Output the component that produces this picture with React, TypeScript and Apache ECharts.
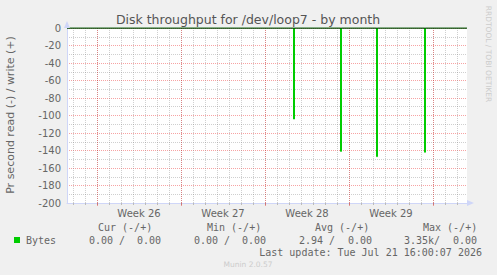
import React, { useEffect, useRef } from "react";
import * as echarts from "echarts";

// ---- texts ----
const TITLE = "Disk throughput for /dev/loop7 - by month";
const Y_NAME = "Pr second read (-) / write (+)";
const WATERMARK = "RRDTOOL / TOBI OETIKER";
const FOOTER = "Munin 2.0.57";
const LAST_UPDATE = "Last update: Tue Jul 21 16:00:07 2026";

// ---- x axis (hours relative to the start of Week 26) ----
const X_MIN = -60;
const X_MAX = 740;
const WEEK_LABELS = ["Week 26", "Week 27", "Week 28", "Week 29"];
const WEEK_MIDS = [84, 252, 420, 588];
const WEEK_STARTS = [0, 168, 336, 504, 672];
const DAY_TICKS = [
  -48, -24, 0, 24, 48, 72, 96, 120, 144, 168, 192, 216, 240, 264, 288, 312, 336,
  360, 384, 408, 432, 456, 480, 504, 528, 552, 576, 600, 624, 648, 672, 696, 720,
];

// ---- y axis ----
const Y_MIN = -200;
const Y_MAX = 0;
const Y_STEP = 20;

// ---- series: read spikes (hour of sample, value) ----
const SAMPLE_HOURS = 2;
const SPIKE_HOURS = [393, 487, 559, 655];
const SPIKE_VALUES = [-104, -141, -147, -142];

// ---- legend ----
const LEGEND_NAME = "Bytes";
const LEGEND_HEADERS = ["Cur (-/+)", "Min (-/+)", "Avg (-/+)", "Max (-/+)"];
const LEGEND_READ = ["0.00 /", "0.00 /", "2.94 /", "3.35k/"];
const LEGEND_WRITE = ["0.00", "0.00", "0.00", "0.00"];

const SANS = "'DejaVu Sans', sans-serif";
const MONO = "'DejaVu Sans Mono', monospace";
const FONT_COLOR = "#666666";
const AXIS_COLOR = "#CFD6F8";
const MINOR = "rgba(128,128,128,0.38)";
const MAJOR = "rgba(232,0,0,0.36)";
const GREEN = "#00CC00";

export default function App() {
  const ref = useRef<HTMLDivElement>(null);
  useEffect(() => {
    document.body.style.margin = "0";
    const chart = echarts.init(ref.current!, null, { renderer: "svg" });

    const dataPts: [number, number][] = [[X_MIN, 0]];
    SPIKE_HOURS.forEach((t, i) => {
      const v = SPIKE_VALUES[i];
      dataPts.push([t, 0], [t, v], [t + SAMPLE_HOURS, v], [t + SAMPLE_HOURS, 0]);
    });
    dataPts.push([X_MAX, 0]);

    const headerX = [98, 207, 315, 423];
    const readX = [89, 194, 299, 404];
    const writeRight = [161, 266, 372, 477];

    const graphic: any[] = [
      {
        type: "text",
        x: 248,
        y: 19,
        style: { text: TITLE, font: `12.5px ${SANS}`, fill: "#555", textAlign: "center", textVerticalAlign: "middle" },
      },
      {
        type: "text",
        x: 10,
        y: 115,
        rotation: Math.PI / 2,
        style: { text: Y_NAME, font: `11px ${SANS}`, fill: FONT_COLOR, textAlign: "center", textVerticalAlign: "middle" },
      },
      {
        type: "text",
        x: 488.5,
        y: 54,
        rotation: -Math.PI / 2,
        style: { text: WATERMARK, font: `7.5px ${SANS}`, fill: "#CCCCCC", textAlign: "center", textVerticalAlign: "middle" },
      },
      {
        type: "text",
        x: 248,
        y: 264,
        style: { text: FOOTER, font: `7.5px ${SANS}`, fill: "#CCCCCC", textAlign: "center", textVerticalAlign: "middle" },
      },
      // axis arrows
      {
        type: "polygon",
        z: 100,
        shape: { points: [[64, 28], [70, 28], [67, 21]] },
        style: { fill: AXIS_COLOR },
      },
      {
        type: "polygon",
        z: 100,
        shape: { points: [[467, 200], [467, 206], [474, 203]] },
        style: { fill: AXIS_COLOR },
      },
      {
        type: "rect",
        shape: { x: 14, y: 237, width: 6, height: 6 },
        style: { fill: GREEN },
      },
      {
        type: "text",
        x: 26,
        y: 240,
        style: { text: LEGEND_NAME, font: `10px ${MONO}`, fill: FONT_COLOR, textAlign: "left", textVerticalAlign: "middle" },
      },
      {
        type: "text",
        x: 482,
        y: 252,
        style: { text: LAST_UPDATE, font: `10px ${MONO}`, fill: FONT_COLOR, textAlign: "right", textVerticalAlign: "middle" },
      },
    ];
    LEGEND_HEADERS.forEach((h, i) => {
      graphic.push({
        type: "text",
        x: headerX[i],
        y: 227,
        style: { text: h, font: `10px ${MONO}`, fill: FONT_COLOR, textAlign: "left", textVerticalAlign: "middle" },
      });
      graphic.push({
        type: "text",
        x: readX[i],
        y: 240,
        style: { text: LEGEND_READ[i], font: `10px ${MONO}`, fill: FONT_COLOR, textAlign: "left", textVerticalAlign: "middle" },
      });
      graphic.push({
        type: "text",
        x: writeRight[i],
        y: 240,
        style: { text: LEGEND_WRITE[i], font: `10px ${MONO}`, fill: FONT_COLOR, textAlign: "right", textVerticalAlign: "middle" },
      });
    });

    chart.setOption({
      animation: false,
      backgroundColor: "#F0F0F0",
      grid: { left: 67, top: 28, width: 400, height: 175, show: true, backgroundColor: "#FFFFFF", borderWidth: 0 },
      xAxis: [
        {
          type: "value",
          min: X_MIN,
          max: X_MAX,
          position: "bottom",
          axisLine: { show: true, onZero: false, lineStyle: { color: AXIS_COLOR, width: 1 } },
          axisTick: { show: true, customValues: DAY_TICKS, length: 2, lineStyle: { color: "#BBBBBB" } },
          axisLabel: {
            show: true,
            customValues: WEEK_MIDS,
            formatter: (v: number) => WEEK_LABELS[WEEK_MIDS.indexOf(v)] ?? "",
            color: FONT_COLOR,
            fontSize: 10,
            fontFamily: SANS,
            margin: 5,
          },
          splitLine: { show: false },
        },
        {
          type: "value",
          min: X_MIN,
          max: X_MAX,
          position: "bottom",
          axisLine: { show: false, onZero: false },
          axisTick: { show: true, customValues: WEEK_STARTS, length: 3, lineStyle: { color: MAJOR } },
          axisLabel: { show: false },
          splitLine: { show: false },
        },
      ],
      yAxis: {
        type: "value",
        min: Y_MIN,
        max: Y_MAX,
        interval: Y_STEP,
        axisLine: { show: true, onZero: false, lineStyle: { color: AXIS_COLOR, width: 1 } },
        axisTick: { show: false },
        axisLabel: { color: FONT_COLOR, fontSize: 10, fontFamily: SANS, margin: 6 },
        splitLine: { show: true, lineStyle: { color: MAJOR, type: [1, 1], width: 1 } },
        minorTick: { show: false, splitNumber: 2 },
        minorSplitLine: { show: true, lineStyle: { color: MINOR, type: [1, 1], width: 1 } },
      },
      series: [
        {
          type: "line",
          name: LEGEND_NAME,
          xAxisIndex: 0,
          data: dataPts,
          showSymbol: false,
          silent: true,
          z: 3,
          lineStyle: { color: GREEN, width: 1 },
          markLine: {
            silent: true,
            z: 1,
            symbol: ["none", "none"],
            label: { show: false },
            emphasis: { disabled: true },
            lineStyle: { color: MINOR, type: [1, 1], width: 1 },
            data: DAY_TICKS.map((v) => ({ xAxis: v })),
          },
        },
        {
          type: "line",
          xAxisIndex: 0,
          data: [
            [X_MIN, 0],
            [X_MAX, 0],
          ],
          showSymbol: false,
          silent: true,
          z: 4,
          lineStyle: { color: "#000000", width: 1 },
          markLine: {
            silent: true,
            z: 2,
            symbol: ["none", "none"],
            label: { show: false },
            emphasis: { disabled: true },
            lineStyle: { color: MAJOR, type: [1, 1], width: 1 },
            data: WEEK_STARTS.map((v) => ({ xAxis: v })),
          },
        },
      ],
      graphic,
    });
    return () => chart.dispose();
  }, []);
  return <div ref={ref} style={{ position: "fixed", left: 0, top: 0, width: 497, height: 275 }} />;
}
